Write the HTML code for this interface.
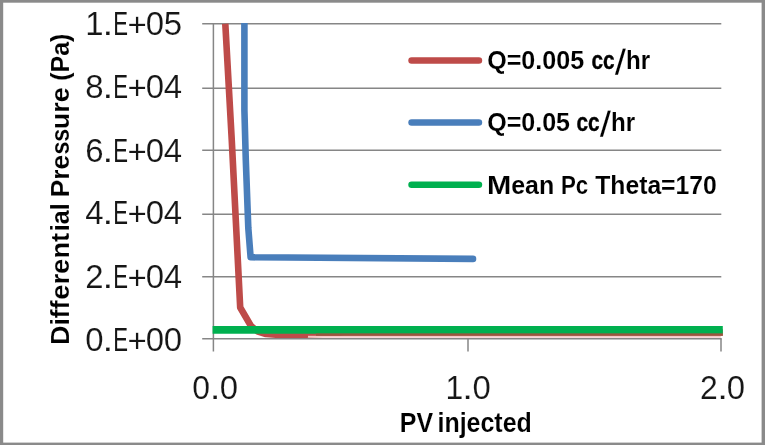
<!DOCTYPE html>
<html>
<head>
<meta charset="utf-8">
<title>Differential Pressure vs PV injected</title>
<style>
html,body{margin:0;padding:0;background:#fff;}
body{width:765px;height:445px;overflow:hidden;font-family:"Liberation Sans",sans-serif;}
svg{display:block;position:absolute;left:0;top:0;}
text{font-family:"Liberation Sans",sans-serif;font-kerning:none;}
.r{fill:#151515;stroke:#fff;stroke-width:0.15px;}
.bc{font-weight:bold;fill:#000;stroke:#000;stroke-width:0.4px;}
.e{fill:#151515;}
.b{font-weight:bold;fill:#000;stroke:#fff;stroke-width:0.1px;}
</style>
</head>
<body>
<svg width="765" height="445" viewBox="0 0 765 445">
<defs>
<clipPath id="plot"><rect x="200" y="23.1" width="540" height="330"/></clipPath>
<filter id="soft" filterUnits="userSpaceOnUse" x="-20" y="-20" width="805" height="485"><feGaussianBlur stdDeviation="0.55"/></filter>
</defs>
<rect x="0" y="0" width="765" height="445" fill="#fff"/>
<g filter="url(#soft)">
<rect x="-20" y="-20" width="805" height="485" fill="#fff"/>
<!-- outer border -->
<g fill="#8a8a8a">
<rect x="-20" y="-20" width="805" height="22.7"/>
<rect x="-20" y="-20" width="23.2" height="485"/>
<rect x="761.6" y="-20" width="23.4" height="485"/>
<rect x="-20" y="442.6" width="805" height="22.4"/>
</g>
<!-- gridlines + ticks -->
<g stroke="#868686" stroke-width="1.5" fill="none">
<line x1="202.2" y1="23.8" x2="721.3" y2="23.8"/>
<line x1="202.2" y1="88.3" x2="721.3" y2="88.3"/>
<line x1="202.2" y1="150.2" x2="721.3" y2="150.2"/>
<line x1="202.2" y1="214.2" x2="721.3" y2="214.2"/>
<line x1="202.2" y1="276.8" x2="721.3" y2="276.8"/>
<line x1="202.2" y1="338.8" x2="721.7" y2="338.8"/>
<line x1="213.4" y1="23.1" x2="213.4" y2="351.6"/>
<line x1="468" y1="338.8" x2="468" y2="351.6"/>
<line x1="721" y1="338.8" x2="721" y2="351.6"/>
</g>
<!-- series -->
<g fill="none" stroke-width="6.6" stroke-linejoin="round" clip-path="url(#plot)">
<polyline stroke="#be4b48" stroke-linecap="butt" points="225.3,23.8 231.8,141 240.2,307.5 251,326 258,331.6 266,334 276,334.6 306,334.6 344,332.5 722.8,332.5"/>
<polyline stroke="#4a7ebb" stroke-linecap="round" points="244.4,15 244.4,110 245.8,160 247.3,201 248.3,228 250.6,257.3 288,257.5 473,258.9"/>
<rect x="308" y="335.8" width="412.8" height="1.9" fill="#f5c8c6" stroke="none"/>
<line stroke="#00b050" stroke-width="7.7" x1="212.6" y1="329.85" x2="722.8" y2="329.85"/>
<rect x="316" y="333.5" width="406.8" height="2.3" fill="#9a573d" stroke="none"/>
</g>
<!-- legend -->
<g fill="none" stroke-width="6.6" stroke-linecap="round">
<line stroke="#be4b48" x1="411.6" y1="60.5" x2="478.9" y2="60.5"/>
<line stroke="#4a7ebb" x1="411.6" y1="122.5" x2="478.9" y2="122.5"/>
<line stroke="#00b050" x1="411.6" y1="184.7" x2="478.9" y2="184.7"/>
</g>
<!-- text -->
<text class="r" font-size="33.6" transform="translate(85.29,35.40) scale(0.9800,1)">1</text>
<text class="r" font-size="33.6" transform="translate(102.58,35.40) scale(1.1500,1)">.</text>
<text class="e" font-size="33.6" transform="translate(113.28,35.40) scale(0.6589,1)">E</text>
<text class="r" font-size="33.6" transform="translate(127.59,36.30) scale(0.9800,1)">+</text>
<text class="r" font-size="33.6" transform="translate(145.74,35.40) scale(0.9800,1)">0</text>
<text class="r" font-size="33.6" transform="translate(163.64,35.40) scale(0.9800,1)">5</text>
<text class="r" font-size="33.6" transform="translate(85.29,98.30) scale(0.9800,1)">8</text>
<text class="r" font-size="33.6" transform="translate(102.58,98.30) scale(1.1500,1)">.</text>
<text class="e" font-size="33.6" transform="translate(113.28,98.30) scale(0.6589,1)">E</text>
<text class="r" font-size="33.6" transform="translate(127.59,99.20) scale(0.9800,1)">+</text>
<text class="r" font-size="33.6" transform="translate(145.74,98.30) scale(0.9800,1)">0</text>
<text class="r" font-size="33.6" transform="translate(163.64,98.30) scale(0.9800,1)">4</text>
<text class="r" font-size="33.6" transform="translate(85.29,161.80) scale(0.9800,1)">6</text>
<text class="r" font-size="33.6" transform="translate(102.58,161.80) scale(1.1500,1)">.</text>
<text class="e" font-size="33.6" transform="translate(113.28,161.80) scale(0.6589,1)">E</text>
<text class="r" font-size="33.6" transform="translate(127.59,162.70) scale(0.9800,1)">+</text>
<text class="r" font-size="33.6" transform="translate(145.74,161.80) scale(0.9800,1)">0</text>
<text class="r" font-size="33.6" transform="translate(163.64,161.80) scale(0.9800,1)">4</text>
<text class="r" font-size="33.6" transform="translate(85.29,224.30) scale(0.9800,1)">4</text>
<text class="r" font-size="33.6" transform="translate(102.58,224.30) scale(1.1500,1)">.</text>
<text class="e" font-size="33.6" transform="translate(113.28,224.30) scale(0.6589,1)">E</text>
<text class="r" font-size="33.6" transform="translate(127.59,225.20) scale(0.9800,1)">+</text>
<text class="r" font-size="33.6" transform="translate(145.74,224.30) scale(0.9800,1)">0</text>
<text class="r" font-size="33.6" transform="translate(163.64,224.30) scale(0.9800,1)">4</text>
<text class="r" font-size="33.6" transform="translate(85.29,287.80) scale(0.9800,1)">2</text>
<text class="r" font-size="33.6" transform="translate(102.58,287.80) scale(1.1500,1)">.</text>
<text class="e" font-size="33.6" transform="translate(113.28,287.80) scale(0.6589,1)">E</text>
<text class="r" font-size="33.6" transform="translate(127.59,288.70) scale(0.9800,1)">+</text>
<text class="r" font-size="33.6" transform="translate(145.74,287.80) scale(0.9800,1)">0</text>
<text class="r" font-size="33.6" transform="translate(163.64,287.80) scale(0.9800,1)">4</text>
<text class="r" font-size="33.6" transform="translate(85.29,350.90) scale(0.9800,1)">0</text>
<text class="r" font-size="33.6" transform="translate(102.58,350.90) scale(1.1500,1)">.</text>
<text class="e" font-size="33.6" transform="translate(113.28,350.90) scale(0.6589,1)">E</text>
<text class="r" font-size="33.6" transform="translate(127.59,351.80) scale(0.9800,1)">+</text>
<text class="r" font-size="33.6" transform="translate(145.74,350.90) scale(0.9800,1)">0</text>
<text class="r" font-size="33.6" transform="translate(163.64,350.90) scale(0.9800,1)">0</text>
<text class="r" font-size="33.6" transform="translate(192.32,398.90) scale(0.9500,1)">0</text>
<text class="r" font-size="33.6" transform="translate(209.63,398.90) scale(1.1500,1)">.</text>
<text class="r" font-size="33.6" transform="translate(219.84,398.90) scale(0.9800,1)">0</text>
<text class="r" font-size="33.6" transform="translate(445.39,398.90) scale(0.9500,1)">1</text>
<text class="r" font-size="33.6" transform="translate(462.28,398.90) scale(1.1500,1)">.</text>
<text class="r" font-size="33.6" transform="translate(472.49,398.90) scale(0.9800,1)">0</text>
<text class="r" font-size="33.6" transform="translate(699.92,398.90) scale(0.9500,1)">2</text>
<text class="r" font-size="33.6" transform="translate(717.28,398.90) scale(1.1500,1)">.</text>
<text class="r" font-size="33.6" transform="translate(726.84,398.90) scale(0.9800,1)">0</text>
<text class="b" font-size="26" transform="translate(487.17,68.70) scale(0.9657,1)">Q=0.005</text>
<text class="bc" font-size="26" transform="translate(591.49,68.70) scale(0.7995,1)">cc</text>
<text class="b" font-size="26" transform="matrix(1,0,-0.2213,1.3481,614.66,73.50)">/</text>
<text class="b" font-size="26" transform="translate(626.11,68.70) scale(0.9289,1)">hr</text>
<text class="b" font-size="26" transform="translate(487.17,131.00) scale(0.9641,1)">Q=0.05</text>
<text class="bc" font-size="26" transform="translate(576.49,131.00) scale(0.7995,1)">cc</text>
<text class="b" font-size="26" transform="matrix(1,0,-0.2213,1.3481,599.66,135.50)">/</text>
<text class="b" font-size="26" transform="translate(611.11,131.00) scale(0.9289,1)">hr</text>
<text class="b" font-size="26" transform="translate(486.95,193.60) scale(1.1221,1)">M</text>
<text class="b" font-size="26" transform="translate(511.22,193.60) scale(0.9603,1)">ean</text>
<text class="b" font-size="26" transform="translate(560.91,193.60) scale(0.8566,1)">Pc</text>
<text class="b" font-size="26" transform="translate(595.22,193.60) scale(0.9506,1)">Theta=170</text>
<text class="b" font-size="27" transform="translate(399.83,432.30) scale(0.9228,1)">PV</text>
<text class="b" font-size="27" transform="translate(437.46,432.30) scale(0.9251,1)">injected</text>
<text class="b" font-size="25.6" transform="translate(68.50,344.68) rotate(-90) scale(1.0369,1)">Diff</text>
<text class="b" font-size="25.6" transform="translate(68.50,299.87) rotate(-90) scale(1.0721,1)">ere</text>
<text class="b" font-size="25.6" transform="translate(68.50,258.59) rotate(-90) scale(1.0603,1)">nt</text>
<text class="b" font-size="25.6" transform="translate(68.50,231.15) rotate(-90) scale(0.9774,1)">ial</text>
<text class="b" font-size="25.6" transform="translate(68.50,197.36) rotate(-90) scale(1.0288,1)">Pre</text>
<text class="b" font-size="25.6" transform="translate(68.50,154.62) rotate(-90) scale(0.9123,1)">ss</text>
<text class="b" font-size="25.6" transform="translate(68.50,129.17) rotate(-90) scale(1.0488,1)">ure</text>
<text class="b" font-size="25.6" transform="translate(68.50,80.85) rotate(-90) scale(0.9779,1)">(Pa)</text>
</g>
</svg>
</body>
</html>
